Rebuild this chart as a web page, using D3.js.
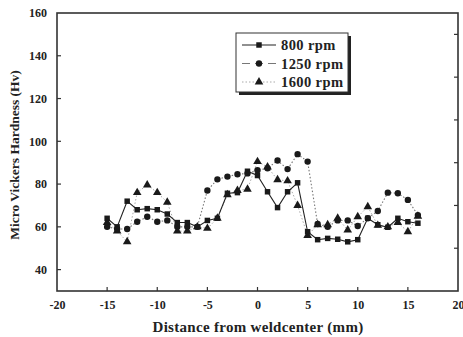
<!DOCTYPE html>
<html>
<head>
<meta charset="utf-8">
<script src="https://cdn.jsdelivr.net/npm/d3@7"></script>
<style>
  body { margin: 0; background: #fff; }
  svg text { font-family: 'Liberation Serif', 'DejaVu Serif', serif; font-weight: bold; fill: #222; }
</style>
</head>
<body>
<div id="chart"></div>
<script>
// distance from weld center (mm)
const distances = [-15, -14, -13, -12, -11, -10, -9, -8, -7, -6, -5, -4, -3, -2, -1, 0,
  1, 2, 3, 4, 5, 6, 7, 8, 9, 10, 11, 12, 13, 14, 15, 16];

const rpm800 = [64, 60, 72, 68, 68.5, 68, 66, 62, 62, 60, 63, 64, 75.7, 76, 86, 84,
  76.4, 69, 76.4, 80.6, 57.7, 54, 54.6, 54.2, 53, 54, 64, 61, 59.8, 64, 62.4, 61.7];

const rpm1250 = [60, 59, 59, 62.4, 64.7, 62.4, 63, 60, 60, 60, 77, 82.2, 83.5, 84.6, 85, 86.5,
  87.4, 91, 87, 94, 90.5, 61.3, 60, 63, 63, 60.4, 64, 67.4, 76, 75.7, 72.6, 65.5];

const rpm1600 = [62, 58, 53, 76, 79.6, 76, 71.5, 58, 58, 60, 59.3, 64, 75, 77, 77.6, 90.5,
  88, 82, 81.5, 70, 56, 61, 61, 64, 58.5, 64.7, 69.4, 60.7, 60, 62, 57.7, 65];

const seriesNames = ['800 rpm', '1250 rpm', '1600 rpm'];
const xTicks = [-20, -15, -10, -5, 0, 5, 10, 15, 20];
const yTicks = [40, 60, 80, 100, 120, 140, 160];
const yRightTicks = [50, 70, 90, 110, 130, 150];

const width = 463, height = 337;
const margin = { top: 13, right: 5, bottom: 46, left: 57 };
const font = "'Liberation Serif', 'DejaVu Serif', serif";

const svg = d3.select('#chart').append('svg')
  .attr('width', width)
  .attr('height', height);

const x = d3.scaleLinear().domain([-20, 20]).range([margin.left, width - margin.right]);
const y = d3.scaleLinear().domain([30, 160]).range([height - margin.bottom, margin.top]);

// frame
svg.append('rect')
  .attr('x', x(-20)).attr('y', y(160))
  .attr('width', x(20) - x(-20)).attr('height', y(30) - y(160))
  .attr('fill', 'none').attr('stroke', '#333').attr('stroke-width', 1.6);

// axes (plain hyphen for negatives, like the scan)
const xAxis = d3.axisBottom(x).tickValues(xTicks).tickSize(0).tickPadding(9)
  .tickFormat(d => String(d));
const xAxisG = svg.append('g')
  .attr('transform', `translate(0,${y(30)})`)
  .call(xAxis)
  .attr('font-family', font)
  .attr('font-size', 12);
xAxisG.select('.domain').remove();

svg.append('g').selectAll('line')
  .data(xTicks.filter(d => d > -20 && d < 20))
  .join('line')
  .attr('x1', d => x(d)).attr('x2', d => x(d))
  .attr('y1', y(30)).attr('y2', y(30) - 4)
  .attr('stroke', '#333').attr('stroke-width', 1.2);

const yAxis = d3.axisLeft(y).tickValues(yTicks).tickSize(0).tickPadding(10);
const yAxisG = svg.append('g')
  .attr('transform', `translate(${x(-20)},0)`)
  .call(yAxis)
  .attr('font-family', font)
  .attr('font-size', 12);
yAxisG.select('.domain').remove();

svg.append('g').selectAll('line')
  .data(yTicks.filter(d => d < 160))
  .join('line')
  .attr('x1', x(-20)).attr('x2', x(-20) + 4)
  .attr('y1', d => y(d)).attr('y2', d => y(d))
  .attr('stroke', '#333').attr('stroke-width', 1.2);

svg.append('g').selectAll('line')
  .data(yRightTicks)
  .join('line')
  .attr('x1', x(20)).attr('x2', x(20) - 4)
  .attr('y1', d => y(d)).attr('y2', d => y(d))
  .attr('stroke', '#333').attr('stroke-width', 1.2);

// axis titles
svg.append('text')
  .attr('x', 258)
  .attr('y', 332)
  .attr('text-anchor', 'middle')
  .style('font-size', '15px')
  .style('letter-spacing', '0.3px')
  .text('Distance from weldcenter (mm)');

svg.append('text')
  .attr('transform', `translate(19,${(y(30) + y(160)) / 2 + 3}) rotate(-90)`)
  .attr('text-anchor', 'middle')
  .style('font-size', '13.5px')
  .text('Micro Vickers Hardness (Hv)');

// series
const series = [
  { name: seriesNames[0], values: rpm800, shape: d3.symbolSquare, size: 30, stroke: '#222', dash: null, width: 1.1 },
  { name: seriesNames[1], values: rpm1250, shape: d3.symbolCircle, size: 32, stroke: '#777', dash: '1.5,2', width: 1.1 },
  { name: seriesNames[2], values: rpm1600, shape: d3.symbolTriangle, size: 32, stroke: '#aaa', dash: '1.5,2', width: 1 }
];

const line = d3.line().x(d => x(d[0])).y(d => y(d[1]));

series.slice().reverse().forEach(s => {
  const pts = distances.map((d, i) => [d, s.values[i]]);
  const g = svg.append('g');
  g.append('path')
    .datum(pts)
    .attr('d', line)
    .attr('fill', 'none')
    .attr('stroke', s.stroke)
    .attr('stroke-width', s.width)
    .attr('stroke-dasharray', s.dash);
  g.selectAll('path.m')
    .data(pts)
    .join('path')
    .attr('class', 'm')
    .attr('transform', d => `translate(${x(d[0])},${y(d[1])})`)
    .attr('d', d3.symbol().type(s.shape).size(s.size))
    .attr('fill', '#1a1a1a');
});

// legend
const lg = svg.append('g').attr('transform', 'translate(236,33)');
lg.append('rect')
  .attr('x', 3).attr('y', 3).attr('width', 112).attr('height', 59)
  .attr('fill', '#222');
lg.append('rect')
  .attr('x', 0).attr('y', 0).attr('width', 112).attr('height', 59)
  .attr('fill', '#fff').attr('stroke', '#333').attr('stroke-width', 1);

series.forEach((s, i) => {
  const ly = 12 + i * 18.5;
  lg.append('line')
    .attr('x1', 6).attr('x2', 40).attr('y1', ly).attr('y2', ly)
    .attr('stroke', s.stroke).attr('stroke-width', s.width)
    .attr('stroke-dasharray', i === 0 ? null : (i === 1 ? '8,5' : '1.5,2'));
  lg.append('path')
    .attr('transform', `translate(23,${ly})`)
    .attr('d', d3.symbol().type(s.shape).size(s.size))
    .attr('fill', '#1a1a1a');
  lg.append('text')
    .attr('x', 45).attr('y', ly + 5)
    .style('font-size', '14.5px')
    .style('letter-spacing', '0.4px')
    .text(s.name);
});
</script>
</body>
</html>
